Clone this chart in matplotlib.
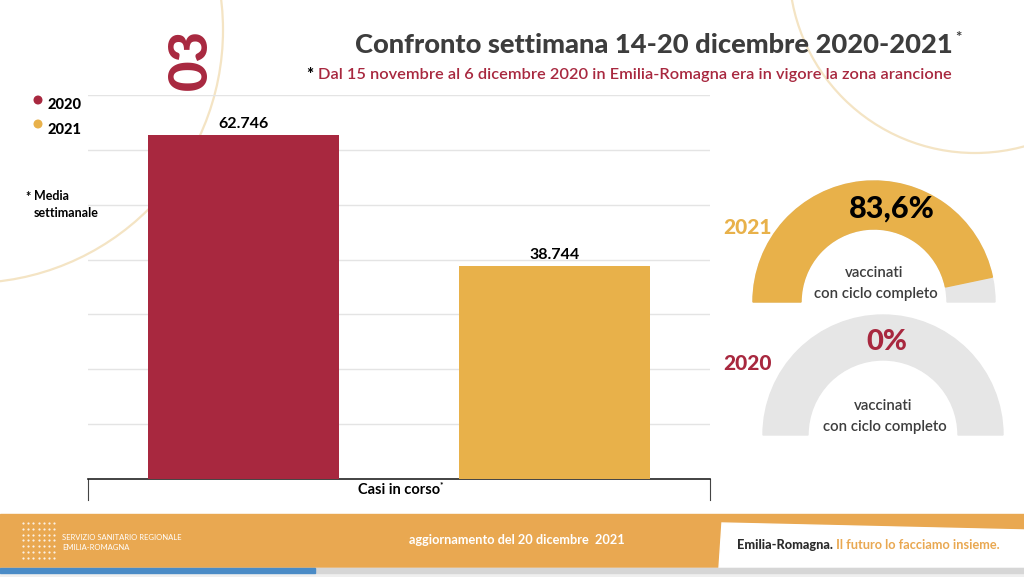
import numpy as np
import matplotlib
matplotlib.use("Agg")
import matplotlib.pyplot as plt
from matplotlib.patches import Wedge, Rectangle, Polygon, Circle

plt.rcParams['font.family'] = ['Lato', 'DejaVu Sans']

# dati
anni = ['2020', '2021']
casi_in_corso = [62746, 38744]
etichette_casi = ['62.746', '38.744']
etichette_vacc = ['0%', '83,6%']
# riempimento dei semicerchi come appare nel grafico (in %)
riempimento_gauge = [0.0, 93.4]

ROSSO = '#A8283F'
ARANCIO = '#E8B14A'
FASCIA = '#E9A851'
GRIGIO = '#E6E6E6'
SCURO = '#3D3D3D'

fig = plt.figure(figsize=(10.24, 5.77), dpi=100)

# asse di sfondo in pixel (0..1024, 0..577, y verso il basso)
bg = fig.add_axes([0, 0, 1, 1])
bg.set_xlim(0, 1024)
bg.set_ylim(577, 0)
bg.axis('off')

# cerchi decorativi
bg.add_patch(Circle((-30, 30), 253, fill=False, ec='#F4E4C4', lw=1.6))
bg.add_patch(Circle((975, -33), 186, fill=False, ec='#F4E4C4', lw=1.6))

# titolo
bg.text(953, 45, 'Confronto settimana 14-20 dicembre 2020-2021', ha='right', va='center',
        fontsize=19.6, fontweight='black', color=SCURO)
bg.text(955, 38, '*', ha='left', va='center', fontsize=11, fontweight='bold', color=SCURO)
sub = bg.text(952, 75, 'Dal 15 novembre al 6 dicembre 2020 in Emilia-Romagna era in vigore la zona arancione',
              ha='right', va='center', fontsize=11.8, fontweight='semibold', color=ROSSO)
bg.annotate('* ', xy=(0, 0.5), xycoords=sub, ha='right', va='center', fontsize=12,
            fontweight='black', color='black')
bg.text(191, 60, '03', ha='center', va='center', rotation=90, fontsize=38,
        fontweight='black', color=ROSSO)

# legenda
for i, (anno, col) in enumerate(zip(anni, [ROSSO, ARANCIO])):
    bg.add_patch(Circle((38, 100 + 24 * i), 3.8, color=col))
    bg.text(48, 105 + 25 * i, anno, ha='left', va='center', fontsize=10.5,
            fontweight='black', color='black')
bg.text(25, 197, '*', ha='left', va='center', fontsize=9, fontweight='bold')
bg.text(34, 196, 'Media', ha='left', va='center', fontsize=9, fontweight='bold')
bg.text(34, 213, 'settimanale', ha='left', va='center', fontsize=9, fontweight='bold')

# grafico a barre
ax = fig.add_axes([88 / 1024, 1 - 479 / 577, 622 / 1024, 384 / 577])
ax.patch.set_alpha(0)
x = np.arange(len(anni))
ax.bar(x, casi_in_corso, width=0.615, color=[ROSSO, ARANCIO], zorder=3)
for xi, v, lab in zip(x, casi_in_corso, etichette_casi):
    ax.annotate(lab, (xi, v), xytext=(0, 3), textcoords='offset points', ha='center',
                va='bottom', fontsize=11.5, fontweight='bold', color='black')
ax.set_xlim(-0.5, 1.5)
ax.set_ylim(0, 70000)
ax.set_yticks(np.arange(10000, 70001, 10000))
ax.yaxis.grid(True, color='#E4E4E4', lw=1)
ax.set_axisbelow(True)
ax.tick_params(left=False, bottom=False, labelleft=False, labelbottom=False)
for s in ['left', 'right', 'top']:
    ax.spines[s].set_visible(False)
ax.spines['bottom'].set_color('#222222')
ax.spines['bottom'].set_linewidth(1.2)
for xa in [0, 1]:
    ax.plot([xa, xa], [0, -0.055], transform=ax.transAxes, clip_on=False,
            color='#444444', lw=0.8)
casi = ax.text(0.5, -0.028, 'Casi in corso', transform=ax.transAxes, ha='center',
               va='center', fontsize=10.5, fontweight='bold', color='black')
ax.annotate('*', xy=(1, 0.85), xycoords=casi, ha='left', va='center',
            fontsize=6, fontweight='bold', color='black')

# gauge vaccinati
gauges = [
    # anno, centro, raggio, spessore, colore etichetta, pos etichetta, pos valore, colore valore
    ('2020', (883, 435), 120, 45, ROSSO, (748, 363), (887, 342), ROSSO, 21),
    ('2021', (874, 302), 121, 48, ARANCIO, (747, 228), (892, 209), 'black', 22),
]
for i, (anno, c, r, w, col_lab, pos_lab, pos_val, col_val, fs_val) in enumerate(gauges):
    pct = riempimento_gauge[i]
    ang = 180 - 180 * pct / 100
    bg.add_patch(Wedge(c, r, -180, 0, width=w, color=GRIGIO))
    if pct > 0:
        # asse y invertito: angoli negativi sono verso l'alto
        bg.add_patch(Wedge(c, r, -180, -ang, width=w, color=ARANCIO))
    bg.text(pos_val[0], pos_val[1], etichette_vacc[i], ha='center', va='center',
            fontsize=fs_val, fontweight='black', color=col_val)
    bg.text(pos_lab[0], pos_lab[1], anno, ha='center', va='center', fontsize=15,
            fontweight='black', color=col_lab)
    bg.text(c[0], c[1] - 29, 'vaccinati', ha='center', va='center', fontsize=10.8,
            fontweight='semibold', color=SCURO)
    bg.text(c[0] + 2, c[1] - 8, 'con ciclo completo', ha='center', va='center',
            fontsize=10.8, fontweight='semibold', color=SCURO)

# piè di pagina
bg.add_patch(Rectangle((0, 514), 1024, 54, color=FASCIA))
bg.add_patch(Polygon([(722, 523), (1024, 530), (1024, 568), (719, 568)], closed=True,
                     color='white'))
bg.add_patch(Rectangle((0, 568), 1024, 9, color='#EFEFEF'))
bg.add_patch(Rectangle((315, 568), 709, 5, color='#D6D6D6'))
bg.add_patch(Rectangle((0, 568), 315, 5, color='#4A8BC6'))
gx, gy = np.meshgrid(np.arange(7), np.arange(7))
bg.scatter(23 + gx.ravel() * 5.2, 523 + gy.ravel() * 5.8, s=2.5, c='white',
           alpha=0.85, linewidths=0)
bg.text(62, 537, 'SERVIZIO SANITARIO REGIONALE', ha='left', va='center', fontsize=5.5,
        color='white')
bg.text(62, 547, 'EMILIA-ROMAGNA', ha='left', va='center', fontsize=5.5, color='white')
bg.text(517, 540, 'aggiornamento del 20 dicembre  2021', ha='center', va='center',
        fontsize=9.2, fontweight='bold', color='white')
t1 = bg.text(737, 545, 'Emilia-Romagna.', ha='left', va='center', fontsize=9.2,
             fontweight='black', color='#2B2B2B')
bg.annotate(' Il futuro lo facciamo insieme.', xy=(1, 0.5), xycoords=t1, ha='left',
            va='center', fontsize=9.2, fontweight='bold', color=FASCIA)

fig.savefig('out.png', dpi=100)
